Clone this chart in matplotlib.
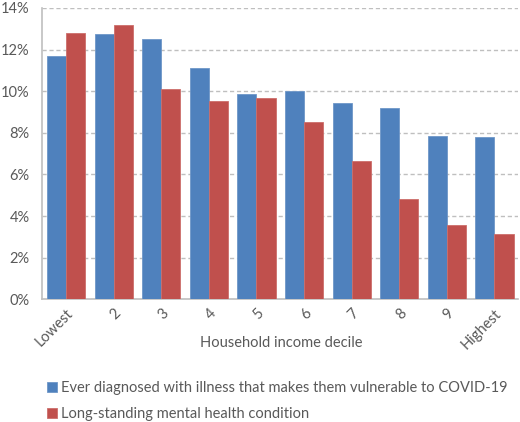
import matplotlib
matplotlib.use("Agg")
import matplotlib.pyplot as plt
import numpy as np
from matplotlib.ticker import FuncFormatter

categories = ["Lowest", "2", "3", "4", "5", "6", "7", "8", "9", "Highest"]
vulnerable = [11.68, 12.75, 12.50, 11.09, 9.87, 10.01, 9.42, 9.18, 7.85, 7.82]
mental = [12.80, 13.19, 10.08, 9.55, 9.66, 8.54, 6.62, 4.84, 3.59, 3.12]
series_names = ["Ever diagnosed with illness that makes them vulnerable to COVID-19",
                "Long-standing mental health condition"]

plt.rcParams['font.family'] = ['Lato', 'DejaVu Sans']
txt = '#595959'

fig = plt.figure(figsize=(5.2, 4.22), dpi=100)
ax = fig.add_axes([0.0813, 0.2908, 0.9154, 0.6905])

x = np.arange(len(categories))
w = 0.4
b1 = ax.bar(x - w/2, vulnerable, w, color='#4F81BD', edgecolor='#6F97C8', linewidth=0.6,
            label=series_names[0], zorder=3)
b2 = ax.bar(x + w/2, mental, w, color='#C0504D', edgecolor='#CC6E6B', linewidth=0.6,
            label=series_names[1], zorder=3)

ax.set_xlim(-0.5, len(categories) - 0.5)
ax.set_ylim(0, 14)
ax.set_yticks(np.arange(0, 15, 2))
ax.yaxis.set_major_formatter(FuncFormatter(lambda v, p: f"{int(v)}%"))
ax.grid(axis='y', linestyle=(0, (3, 2)), color='#BFBFBF', linewidth=1, zorder=0)
for s in ['top', 'right']:
    ax.spines[s].set_visible(False)
for s in ['left', 'bottom']:
    ax.spines[s].set_color('#BFBFBF')
    ax.spines[s].set_linewidth(1.2)
ax.tick_params(axis='y', length=0, labelsize=10.5, labelcolor=txt, pad=9)
ax.tick_params(axis='x', length=0, labelsize=10.5, labelcolor=txt, pad=5)
ax.set_xticks(x)
ax.set_xticklabels(categories, rotation=45, ha='right', rotation_mode='anchor')
fig.text(281 / 520, 1 - 343 / 422, "Household income decile", fontsize=10.5,
         color=txt, ha='center', va='center')

fig.legend(handles=[b1, b2], labels=series_names, loc='upper left',
           bbox_to_anchor=(0.090, 1 - 381 / 422), frameon=False, fontsize=10.5,
           handlelength=0.7, handleheight=0.7, handletextpad=0.3, labelspacing=0.85,
           labelcolor=txt, borderaxespad=0, borderpad=0)

fig.savefig("out.png", dpi=100)
